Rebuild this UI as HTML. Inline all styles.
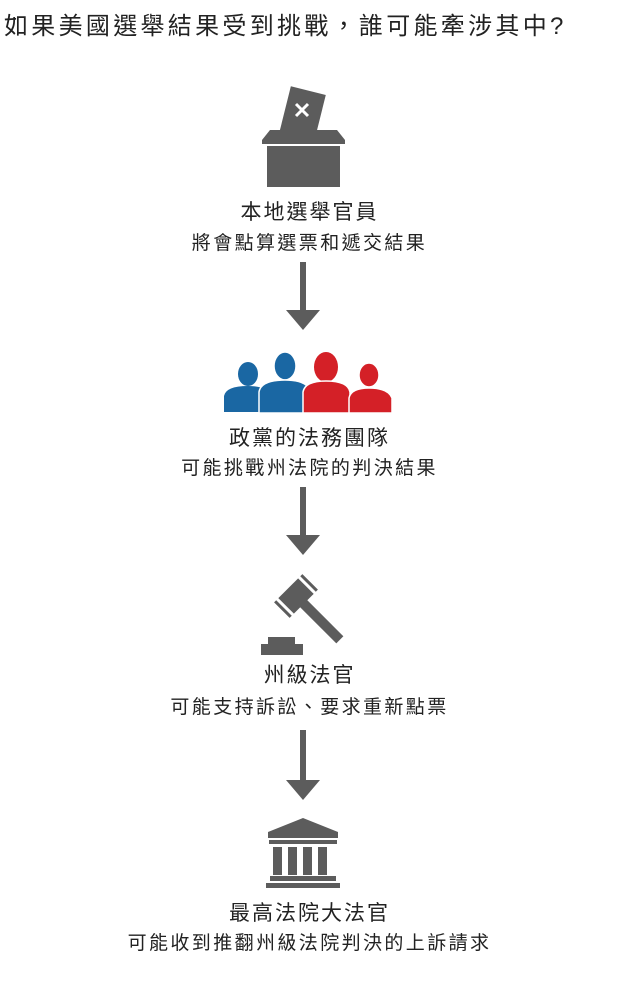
<!DOCTYPE html>
<html><head><meta charset="utf-8"><style>
body{margin:0;width:619px;height:989px;background:#fff;position:relative;font-family:"Liberation Sans","Noto Sans CJK TC",sans-serif;color:#222;overflow:hidden}
.t{position:absolute;left:0;width:619px;text-align:center;white-space:nowrap}
.h{font-size:21px;letter-spacing:2px}
.s{font-size:19px;letter-spacing:2.4px}
svg{position:absolute;left:0;top:0}
</style></head><body>
<div style="position:absolute;left:4px;top:6px;font-size:24px;letter-spacing:3.3px;white-space:nowrap;color:#222">如果美國選舉結果受到挑戰，誰可能牽涉其中?</div>
<svg width="619" height="989">
<g fill="#5c5c5c">
<g transform="rotate(14 303 112)"><rect x="285" y="90" width="36" height="46"/></g>
<path d="M296 104 L308 116 M308 104 L296 116" stroke="#fff" stroke-width="3"/>
<polygon points="270,130 337,130 345,140 262,140"/>
<rect x="262" y="140" width="83" height="4"/>
<rect x="267" y="146" width="73" height="41"/>
<rect x="300" y="262" width="6" height="50"/><polygon points="286,310 320,310 303,330"/>
<rect x="300" y="487" width="6" height="50"/><polygon points="286,535 320,535 303,555"/>
<rect x="300" y="730" width="6" height="52"/><polygon points="286,780 320,780 303,800"/>
<g transform="translate(296 596) rotate(45)">
<rect x="-11" y="-14" width="22" height="28"/>
<rect x="-11" y="-20" width="22" height="3"/>
<rect x="-11" y="17" width="22" height="3"/>
<rect x="10" y="-5" width="52" height="10"/>
</g>
<rect x="268" y="637" width="27" height="7"/>
<rect x="261" y="644" width="42" height="11"/>
<polygon points="303,818 338,832 338,838 268,838 268,832"/>
<rect x="269" y="840" width="68" height="4"/>
<rect x="273" y="847" width="9" height="28"/><rect x="288" y="847" width="9" height="28"/><rect x="303" y="847" width="9" height="28"/><rect x="318" y="847" width="9" height="28"/>
<rect x="270" y="876" width="66" height="5"/>
<rect x="266" y="883" width="74" height="5"/>
</g>
<g>
<g fill="#1a67a3"><ellipse cx="248" cy="374" rx="10" ry="12"/><path d="M224 412 L224 396 Q226 386 248 386 Q268 386 270 396 L270 412Z"/></g>
<g fill="#1a67a3" stroke="#fff" stroke-width="1.5"><ellipse cx="285" cy="366" rx="11" ry="14"/><path d="M259 413 L259 392 Q261 380 285 380 Q308 380 310 392 L310 413Z"/></g>
<g fill="#d42027"><ellipse cx="326" cy="367" rx="12" ry="15"/><path d="M303 413 L303 392 Q305 381 326 381 Q348 381 350 392 L350 413Z" stroke="#fff" stroke-width="1.5"/></g>
<g fill="#d42027" stroke="#fff" stroke-width="1.5"><ellipse cx="369" cy="375" rx="10" ry="12"/><path d="M349 413 L349 398 Q351 388 369 388 Q388 388 392 398 L392 413Z"/></g>
</g>
</svg>
<div class="t h" style="top:196px">本地選舉官員</div>
<div class="t s" style="top:228px">將會點算選票和遞交結果</div>
<div class="t h" style="top:422px">政黨的法務團隊</div>
<div class="t s" style="top:453px">可能挑戰州法院的判決結果</div>
<div class="t h" style="top:659px">州級法官</div>
<div class="t s" style="top:692px">可能支持訴訟、要求重新點票</div>
<div class="t h" style="top:897px">最高法院大法官</div>
<div class="t s" style="top:928px">可能收到推翻州級法院判決的上訴請求</div>
</body></html>
